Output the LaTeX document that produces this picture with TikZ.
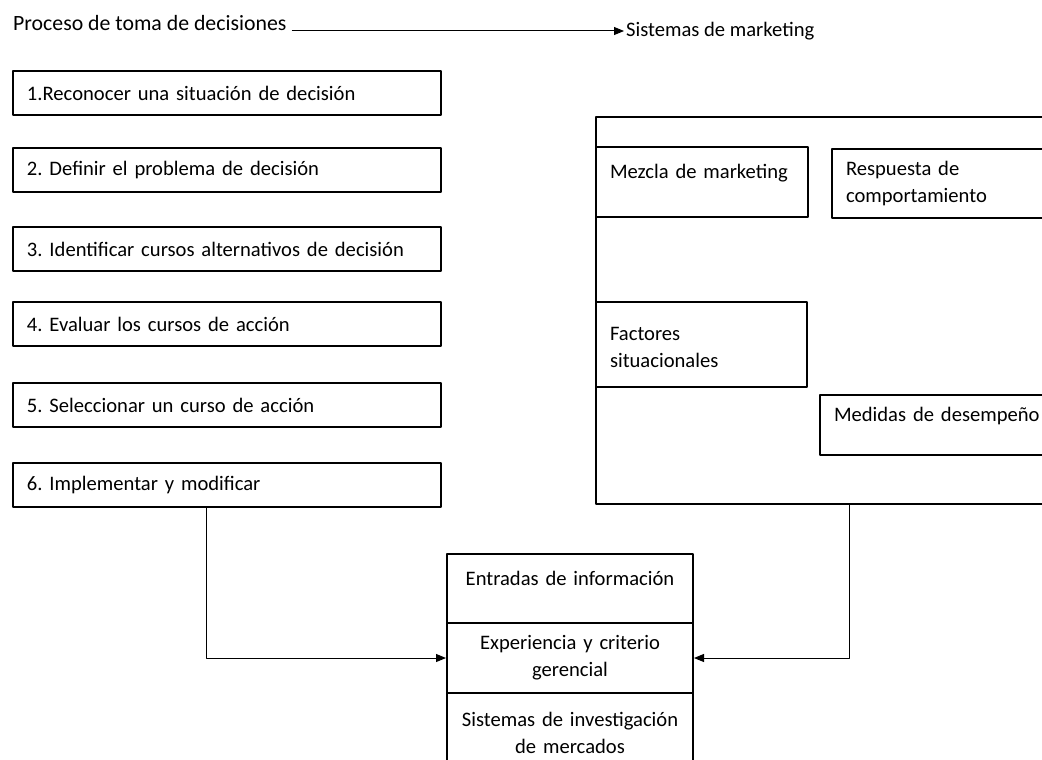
\documentclass[tikz,border=0pt]{standalone}
\usepackage{fontspec}
\setmainfont{Carlito}
\usetikzlibrary{positioning,arrows.meta}
\tikzset{
	caja/.style={draw, line width=2pt, anchor=north west, inner xsep=14pt, inner ysep=0pt, align=left},
	cajac/.style={caja, align=center},
	arriba/.style={text depth=21pt},
	conn/.style={->, line width=1pt},
	texto/.style={inner sep=0pt, anchor=base west}
}
\begin{document}
\frenchspacing
\begin{tikzpicture}[x=1pt, y=-1pt, line join = round, >={Triangle[length=10pt,width=8pt]}, font=\fontsize{20.6}{27}\selectfont]
	\useasboundingbox (0,0) rectangle (1042,760);
	\clip (0,0) rectangle (1042,760);
	%Titulos
	\node[texto, font=\fontsize{21.8}{27}\selectfont] (proc) at (13,31) {Proceso de toma de decisiones};
	\node[texto] (sist) at (626,37) {Sistemas de marketing};
	\draw[conn] ([xshift=5pt]proc.base east) -- ([xshift=-2pt]proc.base -| sist.west);
	%Pasos del proceso
	\foreach \i/\y/\t in {1/70/1.Reconocer una situación de decisión,
		2/147/2. Definir el problema de decisión,
		3/226/3. Identificar cursos alternativos de decisión,
		4/301/4. Evaluar los cursos de acción,
		5/382/5. Seleccionar un curso de acción,
		6/462/6. Implementar y modificar}
	\node[caja, text width=400pt, minimum height=44pt] (b\i) at (12,\y) {\t};
	%Sistemas de marketing
	\node[caja, minimum width=500pt, minimum height=387pt] (mkt) at (595,116) {};
	\node[caja, arriba, text width=184pt, minimum height=70pt] (mezcla) at (595,146) {Mezcla de marketing};
	\node[caja, text width=222pt, minimum height=69pt] (resp) at (831,148) {Respuesta de\\comportamiento};
	\node[caja, arriba, text width=183pt, minimum height=85pt] (fact) at (595,301) {Factores\\situacionales};
	\node[caja, arriba, text width=222pt, minimum height=60pt] (med) at (819,394) {Medidas de desempeño};
	%Bloque central
	\node[cajac, arriba, text width=218pt, minimum height=69pt] (entr) at (446,553) {Entradas de información};
	\node[cajac, text width=218pt, minimum height=70pt] (exp) at (446,622) {Experiencia y criterio\\gerencial};
	\node[cajac, text width=218pt, minimum height=80pt] (inv) at (446,692) {Sistemas de investigación\\de mercados\\[12pt]};
	%Conectores
	\draw[conn] ([xshift=194pt]b6.south west) |- (exp.west);
	\draw[conn] ([xshift=254pt]mkt.south west) |- (exp.east);
\end{tikzpicture}
\end{document}
